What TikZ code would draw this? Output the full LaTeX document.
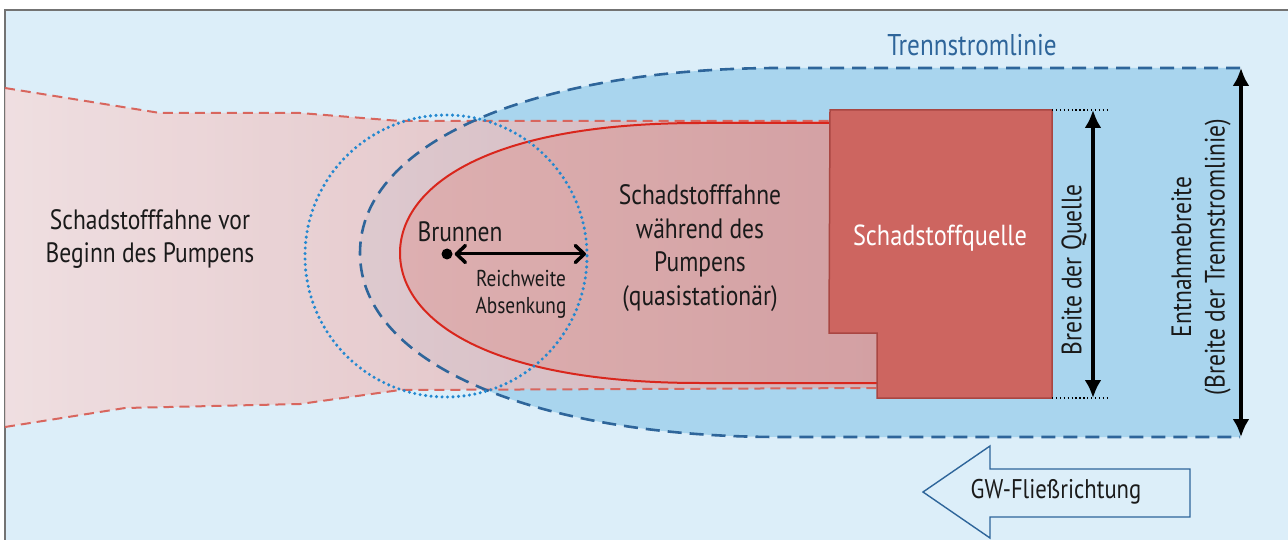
\documentclass[tikz,border=0pt]{standalone}
\usepackage{fontspec}
\setmainfont{PT Sans}[FakeStretch=0.84]
\usetikzlibrary{arrows.meta}
\definecolor{bgblue}{HTML}{DCEEF9}
\definecolor{capblue}{HTML}{A9D5EE}
\definecolor{trennblue}{HTML}{2E659A}
\definecolor{dotblue}{HTML}{2388D0}
\definecolor{plumeL}{HTML}{F4DBDB}
\definecolor{plumeR}{HTML}{DDA9AB}
\definecolor{innerL}{HTML}{DEADAE}
\definecolor{innerR}{HTML}{D49FA1}
\definecolor{plumedash}{HTML}{D8665E}
\definecolor{redline}{HTML}{D9261C}
\definecolor{srcfill}{HTML}{CD6560}
\definecolor{srcdraw}{HTML}{A94642}
\definecolor{txt}{HTML}{1A1A1A}
\begin{document}
\begin{tikzpicture}[x=1pt,y=-1pt,
  lbl/.style={font=\fontsize{28}{33.5}\selectfont, text=txt, align=center, inner sep=0pt},
  smalllbl/.style={font=\fontsize{23}{27}\selectfont, text=txt, align=center, inner sep=0pt},
  trenn/.style={draw=trennblue, line width=2.6pt, dash pattern=on 14pt off 8pt},
  plumeline/.style={draw=plumedash, line width=2pt, dash pattern=on 10pt off 6pt},
  dimarrow/.style={draw=black, line width=3.5pt, {Latex[length=18pt,width=17pt]}-{Latex[length=18pt,width=17pt]}},
  reicharrow/.style={draw=black, line width=3pt, {Straight Barb[length=9pt,width=17pt,line width=3.5pt,round]}-{Straight Barb[length=9pt,width=17pt,line width=3.5pt,round]}}
]
\useasboundingbox (0,0) rectangle (1288,540);
\fill[white] (0,0) rectangle (1288,540);
\fill[bgblue] (5,10) rectangle (1288,540);
\draw[black!55, line width=1.2pt] (5,540) -- (5,10) -- (1288,10);

% capture zone fill
\fill[capblue] (1240,68) -- (780,68) .. controls (540,68) and (360,140) .. (360,253)
  .. controls (360,366) and (540,437) .. (780,437) -- (1240,437) -- cycle;

% plume before pumping
\shade[left color=plumeL, right color=plumeR, fill opacity=0.8]
  (5,88) -- (160,113) -- (300,113) -- (400,121) -- (880,121) -- (880,388)
  -- (400,390) -- (300,404) -- (125,408) -- (5,427) -- cycle;
\draw[plumeline] (5,88) -- (160,113) -- (300,113) -- (400,121) -- (880,121);
\draw[plumeline] (5,427) -- (125,408) -- (300,404) -- (400,390) -- (880,388);

% plume during pumping
\shade[left color=innerL, right color=innerR, fill opacity=0.9]
  (880,123) -- (700,123) .. controls (480,123) and (400,190) .. (400,253)
  .. controls (400,316) and (480,383) .. (700,383) -- (880,383) -- cycle;
\draw[redline, line width=2pt]
  (880,123) -- (700,123) .. controls (480,123) and (400,190) .. (400,253)
  .. controls (400,316) and (480,383) .. (700,383) -- (880,383);

% separating streamline
\draw[trenn] (1240,68) -- (780,68) .. controls (540,68) and (360,140) .. (360,253)
  .. controls (360,366) and (540,437) .. (780,437) -- (1240,437);

% radius of influence
\draw[dotblue, line width=3.4pt, dash pattern=on 0pt off 5.5pt, line cap=round] (446,256) circle (141);

% source
\draw[srcdraw, fill=srcfill, line width=1.5pt]
  (830,110) -- (1052,110) -- (1052,398) -- (877,398) -- (877,333) -- (829,333) -- cycle;
\node[font=\fontsize{29}{33}\selectfont, text=white, inner sep=0pt] (sq) at (940,238) {Schadstoffquelle};

% dimension lines
\draw[black, line width=1.3pt, dash pattern=on 1.3pt off 2.6pt] (1052,110) -- (1107,110);
\draw[black, line width=1.3pt, dash pattern=on 1.3pt off 2.6pt] (1052,398) -- (1107,398);
\coordinate (bqt) at (1093,110);
\coordinate (bqb) at (1093,398);
\draw[dimarrow] (bqt) -- (bqb);
\node[lbl, rotate=90] (bq) at (1074,270) {Breite der Quelle};

\coordinate (ebt) at (1241,68);
\coordinate (ebb) at (1241,437);
\draw[dimarrow] (ebt) -- (ebb);
\node[lbl, rotate=90] (eb) at (1201,257) {Entnahmebreite\\(Breite der Trennstromlinie)};

\node[font=\fontsize{30}{33}\selectfont, text=trennblue, inner sep=0pt] (tl) at (972,45) {Trennstromlinie};

% well
\node[circle, fill=black, inner sep=0pt, minimum size=11pt] (well) at (447,254) {};
\node[lbl] (br) at (460,232) {Brunnen};
\coordinate (rw) at (586,254);
\draw[reicharrow, shorten <=2pt] (well) -- (rw);
\node[smalllbl] (rwl) at (521,294) {Reichweite\\Absenkung};

% texts
\node[lbl] (vor) at (150,239) {Schadstofffahne vor\\Beginn des Pumpens};
\node[lbl] (waehrend) at (700,248) {Schadstofffahne\\während des\\Pumpens\\(quasistationär)};

% flow arrow
\draw[draw=trennblue, fill=bgblue, line width=1.4pt]
  (923,492) -- (990,446) -- (990,469) -- (1190,469) -- (1190,517) -- (990,517) -- (990,538) -- cycle;
\node[font=\fontsize{27}{33}\selectfont, text=txt, inner sep=0pt] (gw) at (1056,492) {GW-Fließrichtung};
\end{tikzpicture}
\end{document}
